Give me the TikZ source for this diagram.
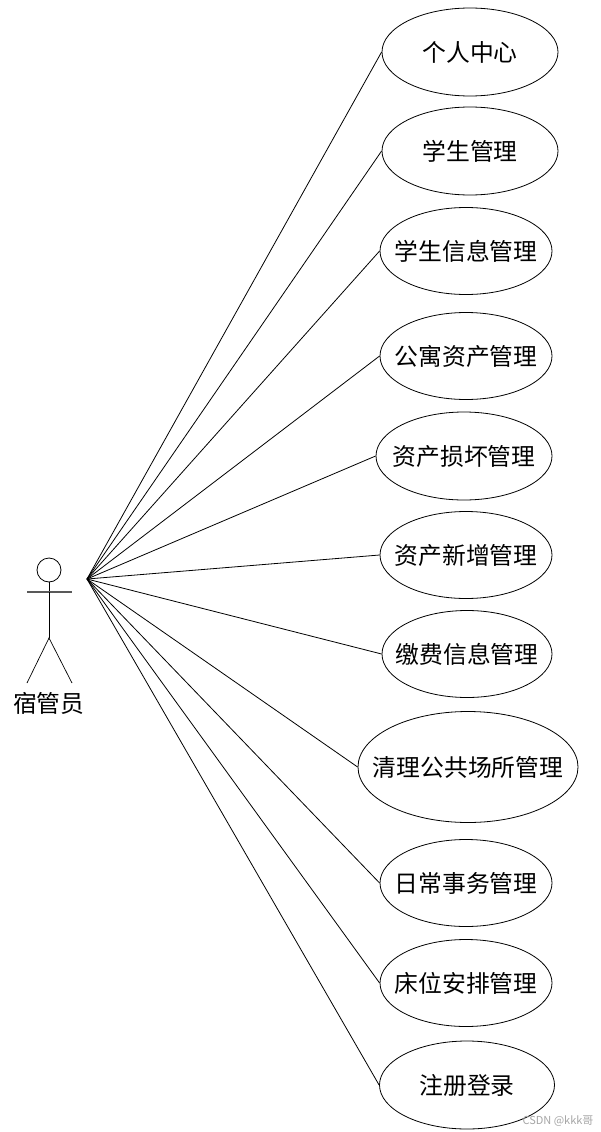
\documentclass[tikz,border=0pt]{standalone}
\usepackage{fontspec}
\usetikzlibrary{shapes.geometric}
\newfontfamily\cjk{Noto Sans CJK SC}
\newcommand{\caselabel}[1]{\makebox[0pt]{\raisebox{1.8pt}{#1}}}

\begin{document}
\begin{tikzpicture}[x=1pt,y=-1pt,line width=.8pt,
  usecase/.style={draw,ellipse,inner sep=0pt,minimum width=172pt,minimum height=87pt,font=\cjk\fontsize{23.8}{24}\selectfont},
  limb/.style={line width=.7pt}]
\useasboundingbox[fill=white] (0,0) rectangle (600,1132);

\node[draw,circle,inner sep=0pt,minimum size=24pt] at (49,570) (head) {};
\coordinate (hip) at (49,638);
\coordinate (armL) at (27,592);
\coordinate (armR) at (72,592);
\coordinate (armM) at (49,592);
\coordinate (footL) at (27,683);
\coordinate (footR) at (72,683);
\coordinate (actorHub) at (87,579);
\node[font=\cjk\fontsize{23.8}{24}\selectfont] at (48.7,703) (actorName) {宿管员};

\draw[limb] (head) -- (hip);
\draw[line width=1.1pt,black!65] (armL) -- (armR);
\draw[limb] (armM) -- (hip);
\draw[limb] (footL) -- (hip) -- (footR);

\node[usecase,minimum width=176pt,minimum height=88pt] at (470,52) (caseA) {\caselabel{个人中心}};
\node[usecase,minimum width=176pt,minimum height=88pt] at (470,151) (caseB) {\caselabel{学生管理}};
\node[usecase] at (466,251) (caseC) {\caselabel{学生信息管理}};
\node[usecase] at (466,356) (caseD) {\caselabel{公寓资产管理}};
\node[usecase,minimum width=176pt,minimum height=88pt] at (464,456) (caseE) {\caselabel{资产损坏管理}};
\node[usecase] at (466,555) (caseF) {\caselabel{资产新增管理}};
\node[usecase,minimum width=170pt] at (467,654) (caseG) {\caselabel{缴费信息管理}};
\node[usecase,minimum width=220pt,minimum height=111pt] at (468,767) (caseH) {\caselabel{清理公共场所管理}};
\node[usecase] at (466,883) (caseI) {\caselabel{日常事务管理}};
\node[usecase] at (466,983) (caseJ) {\caselabel{床位安排管理}};
\node[usecase,minimum width=175pt,minimum height=88pt] at (467,1085) (caseK) {\caselabel{注册登录}};

\draw (actorHub) -- (caseA.west);
\draw (actorHub) -- (caseB.west);
\draw (actorHub) -- (caseC.west);
\draw (actorHub) -- (caseD.west);
\draw (actorHub) -- (caseE.west);
\draw (actorHub) -- (caseF.west);
\draw (actorHub) -- (caseG.west);
\draw (actorHub) -- (caseH.west);
\draw (actorHub) -- (caseI.west);
\draw (actorHub) -- (caseJ.west);
\draw (actorHub) -- (caseK.west);

\node[text=black!35,font=\cjk\fontsize{11}{11}\selectfont] at (558,1121) (mark) {CSDN @kkk哥};
\end{tikzpicture}
\end{document}
